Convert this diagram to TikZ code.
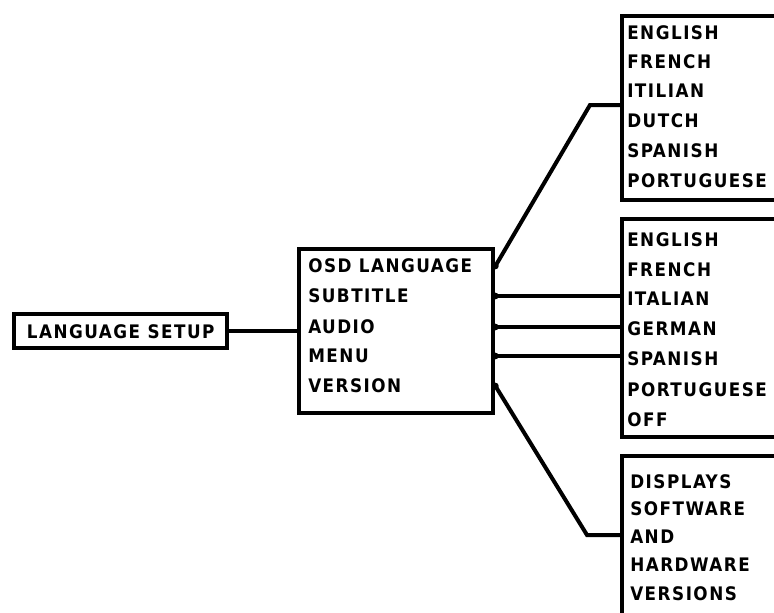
\documentclass[tikz,border=0pt]{standalone}
\usepackage{fontspec}
\newfontfamily\menufont{DejaVu Sans Condensed}[LetterSpace=8]
\usetikzlibrary{positioning}

\begin{document}
\begin{tikzpicture}[x=0.75pt, y=-0.75pt]
\tikzset{
  box/.style={draw=black, line width=3.3pt, rectangle, inner sep=0pt, anchor=north west},
  entry/.style={anchor=west, inner sep=0pt, font=\menufont\bfseries\fontsize{14}{16}\selectfont},
  link/.style={draw=black, line width=3pt},
  knob/.style={fill=black, circle, inner sep=0pt, minimum size=5pt}
}
\useasboundingbox (0,0) rectangle (774,612);
\clip (0,0) rectangle (774,612);
% left box
\node [box, minimum width=159.75pt, minimum height=25.5pt] (setup) at (12,312) {};
\node [entry] (title) at (setup.center) [anchor=center] {LANGUAGE SETUP};
% middle box
\node [box, minimum width=145.5pt, minimum height=123pt] (menu) at (297,247) {};
\node [entry] (m1) at (308,266) {OSD LANGUAGE};
\node [entry] (m2) at (308,296) {SUBTITLE};
\node [entry] (m3) at (308,327) {AUDIO};
\node [entry] (m4) at (308,356) {MENU};
\node [entry] (m5) at (308,386) {VERSION};
\node [knob] (k1) at (menu.east |- m1.west) {};
\node [knob] (k2) at (menu.east |- m2.west) {};
\node [knob] (k3) at (menu.east |- m3.west) {};
\node [knob] (k4) at (menu.east |- m4.west) {};
\node [knob] (k5) at (menu.east |- m5.west) {};
% osd language box
\node [box, minimum width=150pt, minimum height=138pt] (osd) at (620,14) {};
\node [entry] (o1) at (627,33) {ENGLISH};
\node [entry] (o2) at (627,62) {FRENCH};
\node [entry] (o3) at (627,91) {ITILIAN};
\node [entry] (o4) at (627,121) {DUTCH};
\node [entry] (o5) at (627,151) {SPANISH};
\node [entry] (o6) at (627,181) {PORTUGUESE};
% subtitle / audio / menu box
\node [box, minimum width=150pt, minimum height=163.5pt] (lang) at (620,217) {};
\node [entry] (l1) at (627,240) {ENGLISH};
\node [entry] (l2) at (627,270) {FRENCH};
\node [entry] (l3) at (627,299) {ITALIAN};
\node [entry] (l4) at (627,329) {GERMAN};
\node [entry] (l5) at (627,359) {SPANISH};
\node [entry] (l6) at (627,390) {PORTUGUESE};
\node [entry] (l7) at (627,420) {OFF};
% version box
\node [box, minimum width=150pt, minimum height=184.5pt] (ver) at (620,454) {};
\node [entry] (v1) at (630,482) {DISPLAYS};
\node [entry] (v2) at (630,509) {SOFTWARE};
\node [entry] (v3) at (630,537) {AND};
\node [entry] (v4) at (630,565) {HARDWARE};
\node [entry] (v5) at (630,594) {VERSIONS};
% connectors
\coordinate (ob) at (590,105);
\coordinate (vb) at (587,535);
\draw [link] (setup.east) -- (menu.west);
\draw [link] (k1.center) -- (ob) -- (ob -| osd.west);
\draw [link] (k2.center) -- (k2 -| lang.west);
\draw [link] (k3.center) -- (k3 -| lang.west);
\draw [link] (k4.center) -- (k4 -| lang.west);
\draw [link] (k5.center) -- (vb) -- (vb -| ver.west);
\end{tikzpicture}
\end{document}
